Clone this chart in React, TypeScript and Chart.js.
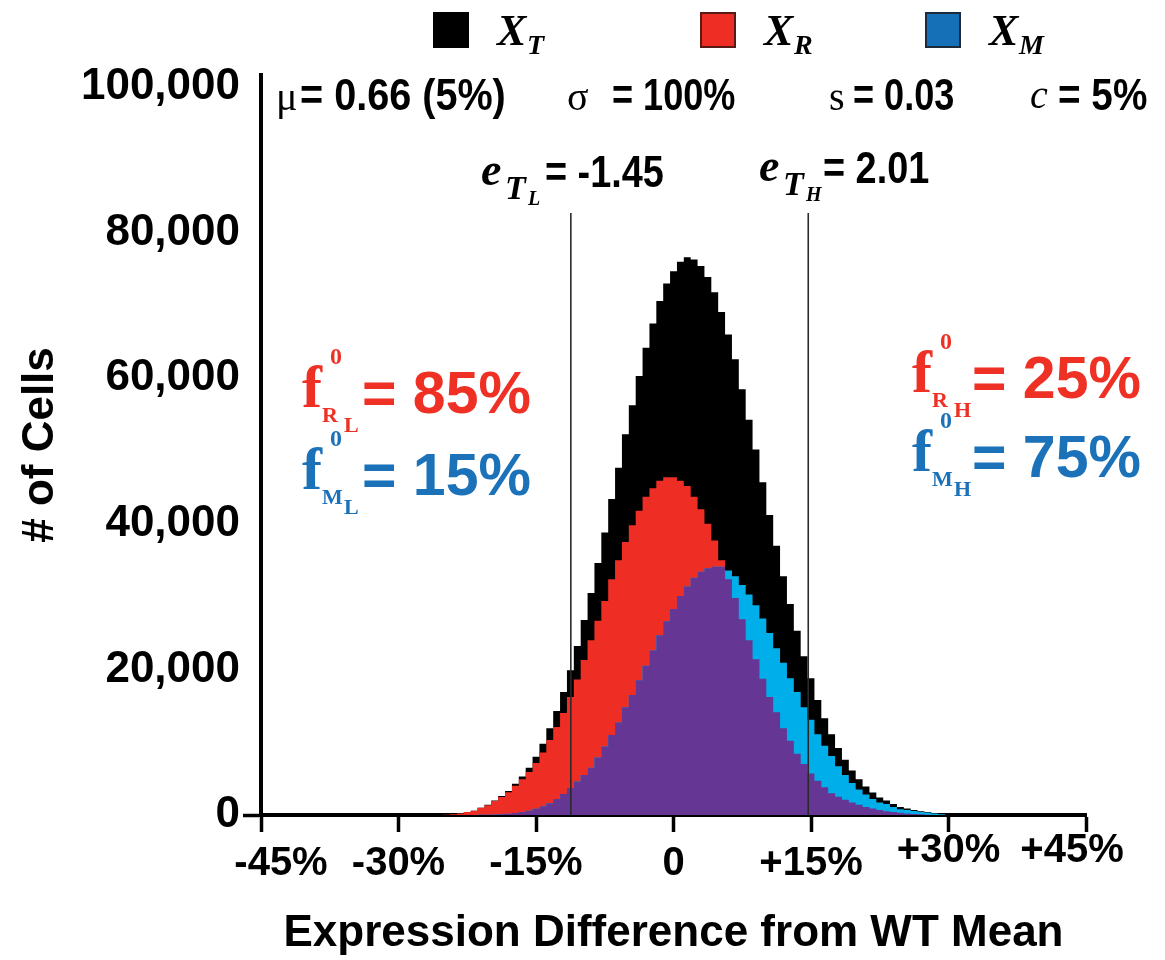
import React, { useEffect, useRef } from "react";
import { Chart, registerables } from "chart.js";

Chart.register(...registerables);

// ---- data (bin centres in % of WT mean, counts in cells) ----
const binCenters = [
  -25.5, -24.75, -24, -23.25, -22.5, -21.75, -21, -20.25, -19.5, -18.75, -18, -17.25, -16.5, -15.75,
  -15, -14.25, -13.5, -12.75, -12, -11.25, -10.5, -9.75, -9, -8.25, -7.5, -6.75, -6, -5.25, -4.5,
  -3.75, -3, -2.25, -1.5, -0.75, 0, 0.75, 1.5, 2.25, 3, 3.75, 4.5, 5.25, 6, 6.75, 7.5, 8.25, 9,
  9.75, 10.5, 11.25, 12, 12.75, 13.5, 14.25, 15, 15.75, 16.5, 17.25, 18, 18.75, 19.5, 20.25, 21,
  21.75, 22.5, 23.25, 24, 24.75, 25.5, 26.25, 27, 27.75, 28.5, 29.25, 30,
];
const totalCells = [
  0, 50, 100, 200, 400, 600, 1000, 1400, 2000, 2600, 3300, 4300, 5300, 6500,
  8000, 9800, 11900, 14300, 16900, 19900, 23200, 26800, 30500, 34600, 38800, 43400, 47700, 52300, 56300,
  60300, 64200, 67500, 70600, 73000, 74700, 76000, 76600, 76300, 75400, 73900, 71800, 69100, 66000, 62600, 58500, 54300, 50200,
  45700, 41200, 37000, 32800, 29000, 25300, 21800, 18800, 15800, 13300, 11100, 9200, 7600, 6100, 4900, 3900,
  3100, 2400, 2000, 1500, 1100, 900, 700, 500, 400, 200, 100, 0,
];
const rCells = [
  0, 50, 100, 200, 400, 600, 980, 1350, 1920, 2480, 3120, 4020, 4900, 5900,
  7150, 8600, 10300, 12100, 14000, 16200, 18600, 21300, 24000, 26700, 29400, 32400, 35000, 37500, 39800,
  41800, 43700, 44900, 45900, 46400, 46400, 45900, 45200, 43700, 42000, 40000, 37700, 35000, 32400, 29800, 26900, 24000, 21400,
  18700, 16200, 14100, 11900, 10200, 8400, 7000, 5700, 4700, 3800, 3000, 2500, 2100, 1700, 1400, 1100,
  900, 700, 500, 400, 300, 200, 150, 100, 50, 0, 0, 0,
];
const mCells = [
  0, 0, 0, 0, 0, 0, 20, 50, 80, 120, 180, 280, 400, 600,
  850, 1200, 1600, 2200, 2900, 3700, 4600, 5500, 6500, 7900, 9400, 11000, 12700, 14800, 16500,
  18500, 20500, 22600, 24700, 26600, 28300, 30100, 31400, 32600, 33400, 33900, 34100, 34100, 33600, 32800, 31600, 30300, 28800,
  27000, 25000, 22900, 20900, 18800, 16900, 14800, 13100, 11100, 9500, 8100, 6700, 5500, 4400, 3500, 2800,
  2200, 1700, 1500, 1100, 800, 700, 550, 400, 350, 200, 100, 0,
];
const xTickValues = [-45, -30, -15, 0, 15, 30, 45];
const xTickLabels = ["-45%", "-30%", "-15%", "0", "+15%", "+30%", "+45%"];
const xRaisedTicks = [30, 45];
const yTickValues = [0, 20000, 40000, 60000, 80000, 100000];
const thresholdPositions = [-11.2, 14.7];
const thresholdTop = 82700;

const COLORS = {
  total: "#000000",
  r: "#ee2e24",
  mOnly: "#00aeea",
  overlap: "#663694",
  line: "#2a2a2a",
  redText: "#ee3124",
  blueText: "#1b72b9",
};

const SANS = "'Liberation Sans', Arial, sans-serif";
const SERIF = "'Liberation Serif', 'DejaVu Serif', serif";

function fontExists(name: string): boolean {
  const c = document.createElement("canvas").getContext("2d");
  if (!c) return false;
  const s = "-45% +30% Expression Difference";
  c.font = "bold 40px monospace";
  const a = c.measureText(s).width;
  c.font = `bold 40px '${name}', monospace`;
  const b = c.measureText(s).width;
  return Math.abs(a - b) > 0.5;
}

function fmt(v: number): string {
  return String(Math.round(v)).replace(/\B(?=(\d{3})+(?!\d))/g, ",");
}

type TProps = {
  x: number;
  cy: number;
  size: number;
  family?: string;
  weight?: string | number;
  italic?: boolean;
  color?: string;
  sx?: number;
  children: React.ReactNode;
};

function Txt({ x, cy, size, family = SANS, weight = "bold", italic = false, color = "#000", sx = 1, children }: TProps) {
  return (
    <div
      style={{
        position: "absolute",
        left: x,
        top: cy - size / 2,
        fontSize: size,
        lineHeight: 1,
        fontFamily: family,
        fontWeight: weight as any,
        fontStyle: italic ? "italic" : "normal",
        color,
        whiteSpace: "nowrap",
        transform: `scaleX(${sx})`,
        transformOrigin: "left center",
      }}
    >
      {children}
    </div>
  );
}

function Square({ x, y, color, border }: { x: number; y: number; color: string; border: string }) {
  return (
    <div
      style={{
        position: "absolute",
        left: x,
        top: y,
        width: 36,
        height: 36,
        background: color,
        boxSizing: "border-box",
        border: `2px solid ${border}`,
      }}
    />
  );
}

function FLabel({ x, cy, sub, color, value }: { x: number; cy: number; sub: string; color: string; value: string }) {
  return (
    <>
      <Txt x={x} cy={cy - 6} size={60} family={SERIF} color={color}>f</Txt>
      <Txt x={x + 28} cy={cy - 37} size={24} family={SERIF} color={color}>0</Txt>
      <Txt x={x + 20} cy={cy + 22} size={22} family={SERIF} color={color}>{sub[0]}</Txt>
      <Txt x={x + 42} cy={cy + 32} size={22} family={SERIF} color={color}>{sub[1]}</Txt>
      <Txt x={x + 60} cy={cy} size={59} color={color}>{value}</Txt>
    </>
  );
}

function ELabel({ x, cy, sub, value }: { x: number; cy: number; sub: string; value: string }) {
  return (
    <>
      <Txt x={x} cy={cy - 2} size={46} family={SERIF} italic>e</Txt>
      <Txt x={x + 24} cy={cy + 16} size={34} family={SERIF} italic>T</Txt>
      <Txt x={x + 47} cy={cy + 26} size={20} family={SERIF} italic>{sub}</Txt>
      <Txt x={x + 64} cy={cy} size={44} sx={0.86}>{value}</Txt>
    </>
  );
}

function LegendItem({ x, color, border, sub }: { x: number; color: string; border: string; sub: string }) {
  return (
    <>
      <Square x={x} y={12} color={color} border={border} />
      <Txt x={x + 64} cy={31} size={44} family={SERIF} italic>X</Txt>
      <Txt x={x + 94} cy={45} size={28} family={SERIF} italic>{sub}</Txt>
    </>
  );
}

export default function App() {
  const ref = useRef<HTMLCanvasElement | null>(null);

  useEffect(() => {
    if (!ref.current) return;
    const narrow = fontExists("Liberation Sans Narrow");
    const tickFamily = narrow ? "'Liberation Sans Narrow', 'Liberation Sans', sans-serif" : SANS;
    const xTickSize = narrow ? 44 : 40;
    const xTitleSize = narrow ? 54 : 44;

    const pts = (vals: number[]) => binCenters.map((x, i) => ({ x, y: vals[i] }));
    const overlap = rCells.map((r, i) => Math.min(r, mCells[i]));
    const hist = (vals: number[], color: string) => ({
      type: "line" as const,
      data: pts(vals),
      stepped: "middle" as const,
      fill: "origin",
      backgroundColor: color,
      borderColor: "rgba(0,0,0,0)",
      borderWidth: 0,
      pointRadius: 0,
      pointHoverRadius: 0,
    });
    const vline = (x: number) => ({
      type: "line" as const,
      data: [
        { x, y: 0 },
        { x, y: thresholdTop },
      ],
      borderColor: COLORS.line,
      borderWidth: 1.6,
      pointRadius: 0,
      fill: false,
    });

    const chart = new Chart(ref.current, {
      type: "line",
      data: {
        datasets: [
          vline(thresholdPositions[0]),
          vline(thresholdPositions[1]),
          hist(overlap, COLORS.overlap),
          hist(mCells, COLORS.mOnly),
          hist(rCells, COLORS.r),
          hist(totalCells, COLORS.total),
        ] as any,
      },
      options: {
        responsive: false,
        maintainAspectRatio: false,
        devicePixelRatio: 1,
        animation: false,
        events: [],
        layout: { padding: { top: 75, right: 79, left: 0, bottom: 0 } },
        plugins: { legend: { display: false }, tooltip: { enabled: false } },
        scales: {
          x: {
            type: "linear",
            min: -45,
            max: 45,
            afterBuildTicks: (s: any) => {
              s.ticks = xTickValues.map((v) => ({ value: v }));
            },
            afterFit: (s: any) => {
              s.height = 145;
              s.paddingLeft = 0;
              s.paddingRight = 0;
            },
            ticks: {
              autoSkip: false,
              maxRotation: 0,
              minRotation: 0,
              padding: 12,
              color: "#000",
              callback: (v: any) => {
                const i = xTickValues.indexOf(Number(v));
                if (i < 0) return "";
                // the outermost labels sit slightly inward of their tick marks
                if (i === 0) return "\u2002\u2002" + xTickLabels[i];
                if (i === xTickValues.length - 1) return xTickLabels[i] + "\u2002\u2009";
                return xTickLabels[i];
              },
              font: (ctx: any) => ({
                family: tickFamily,
                size: xTickSize,
                weight: "bold",
                lineHeight: ctx.tick && xRaisedTicks.includes(ctx.tick.value) ? 0.35 : 1.0,
              }),
            },
            grid: {
              display: true,
              drawOnChartArea: false,
              drawTicks: true,
              tickLength: 17,
              tickWidth: 3.5,
              tickColor: "#000",
              color: "#000",
            },
            border: { display: true, color: "#000", width: 4 },
            title: {
              display: true,
              text: "Expression Difference from WT Mean",
              color: "#000",
              font: { family: tickFamily, size: xTitleSize, weight: "bold", lineHeight: 1.2 },
              padding: { top: 0, bottom: 0 },
            },
          },
          y: {
            type: "linear",
            min: 0,
            max: 101650,
            afterBuildTicks: (s: any) => {
              s.ticks = yTickValues.map((v) => ({ value: v }));
            },
            afterFit: (s: any) => {
              s.width = 261;
              s.paddingTop = 0;
              s.paddingBottom = 0;
            },
            ticks: {
              padding: 3,
              color: "#000",
              font: { family: SANS, size: 44, weight: "bold" },
              callback: (v: any) => fmt(Number(v)),
            },
            grid: {
              display: true,
              drawOnChartArea: false,
              drawTicks: true,
              tickLength: 18,
              tickWidth: 3.5,
              tickColor: (ctx: any) => (ctx.tick && ctx.tick.value === 0 ? "#000" : "rgba(0,0,0,0)"),
            },
            border: { display: true, color: "#000", width: 4 },
            title: {
              display: true,
              text: "# of Cells",
              color: "#000",
              font: { family: SANS, size: 44, weight: "bold", lineHeight: 1.2 },
              padding: { top: 14, bottom: 0 },
            },
          },
        },
      } as any,
    });
    return () => chart.destroy();
  }, []);

  return (
    <div style={{ position: "fixed", left: 0, top: 0, width: 1165, height: 960, background: "#fff", overflow: "hidden" }}>
      <canvas ref={ref} width={1165} height={960} style={{ position: "absolute", left: 0, top: 0 }} />

      {/* legend */}
      <LegendItem x={433} color="#000000" border="#000000" sub="T" />
      <LegendItem x={700} color="#ee2e24" border="#5a1a14" sub="R" />
      <LegendItem x={925} color="#1570b8" border="#1d2a3a" sub="M" />

      {/* parameter row */}
      <Txt x={276} cy={97} size={40} family={SERIF} weight="normal">μ</Txt>
      <Txt x={300} cy={95} size={44} sx={0.9}>= 0.66 (5%)</Txt>
      <Txt x={567} cy={97} size={40} family={SERIF} weight="normal">σ</Txt>
      <Txt x={612} cy={95} size={44} sx={0.82}>= 100%</Txt>
      <Txt x={829} cy={97} size={40} family={SERIF} weight="normal">s</Txt>
      <Txt x={853} cy={95} size={44} sx={0.82}>= 0.03</Txt>
      <Txt x={1030} cy={95} size={40} family={SERIF} weight="normal" italic>c</Txt>
      <Txt x={1058} cy={95} size={44} sx={0.88}>= 5%</Txt>

      {/* thresholds */}
      <ELabel x={481} cy={172} sub="L" value="= -1.45" />
      <ELabel x={759} cy={168} sub="H" value="= 2.01" />

      {/* fractions */}
      <FLabel x={302} cy={393} sub="RL" color={COLORS.redText} value="= 85%" />
      <FLabel x={302} cy={475} sub="ML" color={COLORS.blueText} value="= 15%" />
      <FLabel x={912} cy={378} sub="RH" color={COLORS.redText} value="= 25%" />
      <FLabel x={912} cy={457} sub="MH" color={COLORS.blueText} value="= 75%" />
    </div>
  );
}
